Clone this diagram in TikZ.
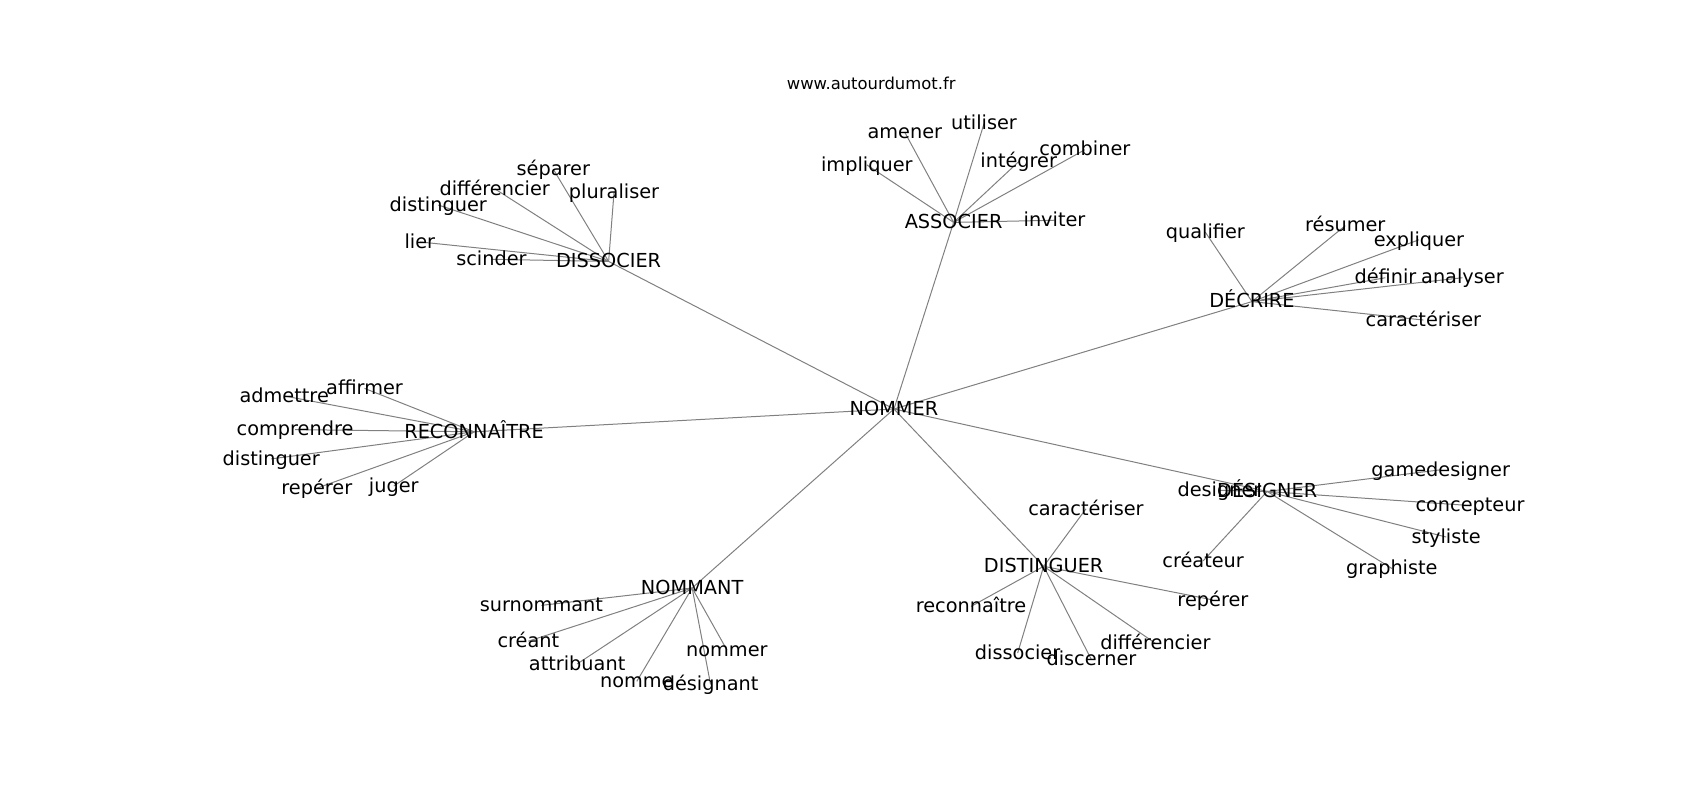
\documentclass[tikz,border=0pt]{standalone}
\usepackage{fontspec}
\setmainfont{DejaVu Sans}
\usetikzlibrary{backgrounds}

\begin{document}
\begin{tikzpicture}[x=1.085pt,y=-1.085pt,
  word/.style={inner sep=0pt,text height=13.5pt,text depth=1pt,font=\fontsize{19.3}{22}\selectfont},
  link/.style={draw=gray,line width=1pt}]

\useasboundingbox (0,0) rectangle (1567,737);

% define the title
  \node[inner sep=0pt,font=\fontsize{16.4}{19}\selectfont] (site) at (803,77) {www.autourdumot.fr};

% define the centre and the hubs
  \node[word] (nommer)      at (824,377)  {NOMMER};
  \node[word] (dissocier)   at (561,241)  {DISSOCIER};
  \node[word] (associer)    at (879,205)  {ASSOCIER};
  \node[word] (decrire)     at (1154,278) {DÉCRIRE};
  \node[word] (reconnaitre) at (437,398)  {RECONNAÎTRE};
  \node[word] (designer)    at (1168,453) {DÉSIGNER};
  \node[word] (distinguer)  at (962,522)  {DISTINGUER};
  \node[word] (nommant)     at (638,542)  {NOMMANT};

% define the words round DISSOCIER
  \node[word] (dsep)   at (510,156) {séparer};
  \node[word] (ddiff)  at (456,174) {différencier};
  \node[word] (dplur)  at (566,177) {pluraliser};
  \node[word] (ddist)  at (404,189) {distinguer};
  \node[word] (dlier)  at (387,223) {lier};
  \node[word] (dscind) at (453,239) {scinder};

% define the words round ASSOCIER
  \node[word] (aamen) at (834,122)  {amener};
  \node[word] (autil) at (907,114)  {utiliser};
  \node[word] (aimpl) at (799,152)  {impliquer};
  \node[word] (ainte) at (939,149)  {intégrer};
  \node[word] (acomb) at (1000,138) {combiner};
  \node[word] (ainvi) at (972,203)  {inviter};

% define the words round DECRIRE
  \node[word] (cqual) at (1111,214) {qualifier};
  \node[word] (cresu) at (1240,208) {résumer};
  \node[word] (cexpl) at (1308,221) {expliquer};
  \node[word] (cdefi) at (1277,256) {définir};
  \node[word] (canal) at (1348,256) {analyser};
  \node[word] (ccara) at (1312,295) {caractériser};

% define the words round RECONNAITRE
  \node[word] (radme) at (262,365) {admettre};
  \node[word] (raffi) at (336,358) {affirmer};
  \node[word] (rcomp) at (272,396) {comprendre};
  \node[word] (rdist) at (250,423) {distinguer};
  \node[word] (rrepe) at (292,450) {repérer};
  \node[word] (rjuge) at (363,448) {juger};

% define the words round DESIGNER
  \node[word] (sgame) at (1328,433) {gamedesigner};
  \node[word] (sdesi) at (1124,452) {designer};
  \node[word] (sconc) at (1355,466) {concepteur};
  \node[word] (sstyl) at (1333,495) {styliste};
  \node[word] (screa) at (1109,517) {créateur};
  \node[word] (sgrap) at (1283,524) {graphiste};

% define the words round DISTINGUER
  \node[word] (tcara) at (1001,469) {caractériser};
  \node[word] (treco) at (895,559)  {reconnaître};
  \node[word] (trepe) at (1118,553) {repérer};
  \node[word] (tdiss) at (938,602)  {dissocier};
  \node[word] (tdisc) at (1006,608) {discerner};
  \node[word] (tdiff) at (1065,593) {différencier};

% define the words round NOMMANT
  \node[word] (msurn) at (499,558) {surnommant};
  \node[word] (mcrea) at (487,591) {créant};
  \node[word] (mattr) at (532,612) {attribuant};
  \node[word] (mnomm) at (587,628) {nomme};
  \node[word] (mdesi) at (655,631) {désignant};
  \node[word] (mnomr) at (670,599) {nommer};

% define the links
\begin{scope}[on background layer]
  \foreach \hub in {dissocier,associer,decrire,reconnaitre,designer,distinguer,nommant}
    \draw[link] (nommer.center) -- (\hub.center);
  \foreach \leaf in {dsep,ddiff,dplur,ddist,dlier,dscind}
    \draw[link] (dissocier.center) -- (\leaf.center);
  \foreach \leaf in {aamen,autil,aimpl,ainte,acomb,ainvi}
    \draw[link] (associer.center) -- (\leaf.center);
  \foreach \leaf in {cqual,cresu,cexpl,cdefi,canal,ccara}
    \draw[link] (decrire.center) -- (\leaf.center);
  \foreach \leaf in {radme,raffi,rcomp,rdist,rrepe,rjuge}
    \draw[link] (reconnaitre.center) -- (\leaf.center);
  \foreach \leaf in {sgame,sdesi,sconc,sstyl,screa,sgrap}
    \draw[link] (designer.center) -- (\leaf.center);
  \foreach \leaf in {tcara,treco,trepe,tdiss,tdisc,tdiff}
    \draw[link] (distinguer.center) -- (\leaf.center);
  \foreach \leaf in {msurn,mcrea,mattr,mnomm,mdesi,mnomr}
    \draw[link] (nommant.center) -- (\leaf.center);
\end{scope}

\end{tikzpicture}
\end{document}
